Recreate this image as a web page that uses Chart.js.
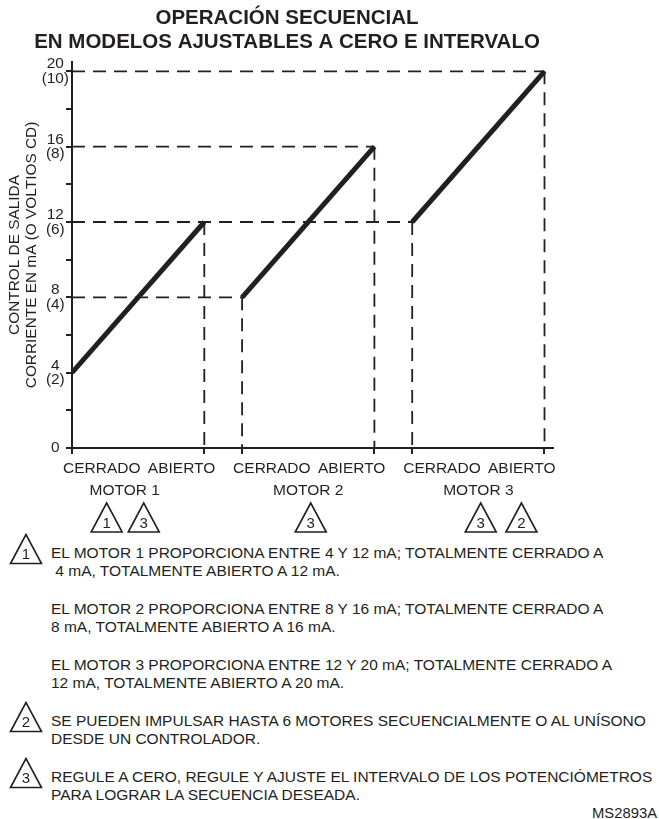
<!DOCTYPE html>
<html>
<head>
<meta charset="utf-8">
<script src="https://cdn.jsdelivr.net/npm/chart.js@4.4.1/dist/chart.umd.min.js"></script>
<style>
  html, body { margin: 0; padding: 0; background: #fff; }
  #page { position: relative; width: 659px; height: 819px; overflow: hidden;
          font-family: "Liberation Sans", Arial, sans-serif; color: #231f20; }
  #chartBox { position: absolute; left: 0; top: 0; width: 575px; height: 540px; }
  .note { position: absolute; left: 51px; font-size: 15.5px; line-height: 18.3px; white-space: pre; }
  .mark { position: absolute; left: 9px; width: 34px; height: 32px; }
  #code { position: absolute; right: 2px; font-size: 14.8px; line-height: 18px; }
</style>
</head>
<body>
<div id="page">
  <div id="chartBox"><canvas id="c"></canvas></div>
  <div id="notes"></div>
  <div id="code" style="top:804px">MS2893A</div>
</div>
<script>
// ---- data ----
const motorNames = ['MOTOR 1', 'MOTOR 2', 'MOTOR 3'];
const closedPos = [0, 9, 18];      // x position of "CERRADO" stop
const openPos = [7, 16, 25];       // x position of "ABIERTO" stop
const closedMA = [4, 8, 12];       // output at fully closed (mA)
const openMA = [12, 16, 20];       // output at fully open (mA)
const closedLabel = 'CERRADO';
const openLabel = 'ABIERTO';
const yTickValues = [0, 2, 4, 6, 8, 10, 12, 14, 16, 18, 20];
const yLabelMA = [0, 4, 8, 12, 16, 20];
const yLabelV = [null, 2, 4, 6, 8, 10];
const motorMarks = [['1', '3'], ['3'], ['3', '2']];
const chartTitle = ['OPERACIÓN SECUENCIAL', 'EN MODELOS AJUSTABLES A CERO E INTERVALO'];
const yTitle = ['CONTROL DE SALIDA', 'CORRIENTE EN mA (O VOLTIOS CD)'];
const notes = [
  { mark: '1', lines: ['EL MOTOR 1 PROPORCIONA ENTRE 4 Y 12 mA; TOTALMENTE CERRADO A', ' 4 mA, TOTALMENTE ABIERTO A 12 mA.'] },
  { mark: null, lines: ['EL MOTOR 2 PROPORCIONA ENTRE 8 Y 16 mA; TOTALMENTE CERRADO A', '8 mA, TOTALMENTE ABIERTO A 16 mA.'] },
  { mark: null, lines: ['EL MOTOR 3 PROPORCIONA ENTRE 12 Y 20 mA; TOTALMENTE CERRADO A', '12 mA, TOTALMENTE ABIERTO A 20 mA.'] },
  { mark: '2', lines: ['SE PUEDEN IMPULSAR HASTA 6 MOTORES SECUENCIALMENTE O AL UNÍSONO', 'DESDE UN CONTROLADOR.'] },
  { mark: '3', lines: ['REGULE A CERO, REGULE Y AJUSTE EL INTERVALO DE LOS POTENCIÓMETROS', 'PARA LOGRAR LA SECUENCIA DESEADA.'] }
];

// ---- layout / style ----
const ink = '#231f20';
const FONT = '"Liberation Sans", Arial, sans-serif';
const motorLabelShift = [-13.5, 0, 0];
const markShift = [[-31.5, 5.6], [2.5], [2.4, 43.1]];
const noteFirstLine = [553, 609, 665, 721, 777];

Chart.defaults.font.family = FONT;
Chart.defaults.color = ink;

// motor lines
const motorSets = motorNames.map((m, i) => ({
  label: m,
  data: [{ x: closedPos[i], y: closedMA[i] }, { x: openPos[i], y: openMA[i] }],
  showLine: true, borderColor: ink, borderWidth: 5, pointRadius: 0,
  borderCapStyle: 'butt', order: 0
}));

// dashed guide lines derived from the stop points
const ends = [];
motorNames.forEach((m, i) => {
  ends.push({ x: closedPos[i], y: closedMA[i] });
  ends.push({ x: openPos[i], y: openMA[i] });
});
const guideSets = [];
const dashStyle = { showLine: true, borderColor: ink, borderWidth: 1.8, borderDash: [13, 8], pointRadius: 0, order: 1 };
const levels = [...new Set(ends.filter(e => e.x > 0).map(e => e.y))];
levels.forEach(lv => {
  const maxX = Math.max(...ends.filter(e => e.y === lv).map(e => e.x));
  guideSets.push(Object.assign({ label: 'h' + lv, data: [{ x: 0, y: lv }, { x: maxX, y: lv }] }, dashStyle));
});
ends.filter(e => e.x > 0).forEach(e => {
  guideSets.push(Object.assign({ label: 'v' + e.x, data: [{ x: e.x, y: e.y }, { x: e.x, y: 0 }] }, dashStyle));
});

const stopTicks = [];
motorNames.forEach((m, i) => { stopTicks.push(closedPos[i], openPos[i]); });

function drawMark(ctx, cx, top, txt) {
  ctx.save();
  ctx.beginPath();
  ctx.moveTo(cx, top);
  ctx.lineTo(cx - 15.5, top + 29);
  ctx.lineTo(cx + 15.5, top + 29);
  ctx.closePath();
  ctx.lineWidth = 1.6;
  ctx.strokeStyle = ink;
  ctx.lineJoin = 'miter';
  ctx.stroke();
  ctx.fillStyle = ink;
  ctx.font = '15px ' + FONT;
  ctx.textAlign = 'center';
  ctx.textBaseline = 'alphabetic';
  ctx.fillText(txt, cx, top + 24.5);
  ctx.restore();
}

const stopLabels = {
  id: 'stopLabels',
  afterDraw(chart) {
    const { ctx, chartArea } = chart;
    const x = chart.scales.x;
    const b = chartArea.bottom;
    ctx.save();
    ctx.fillStyle = ink;
    ctx.font = '15.5px ' + FONT;
    ctx.textBaseline = 'middle';
    motorNames.forEach((m, i) => {
      const xc = x.getPixelForValue(closedPos[i]);
      const xo = x.getPixelForValue(openPos[i]);
      ctx.textAlign = 'left';
      ctx.fillText(closedLabel, xc - 9, b + 21);
      ctx.textAlign = 'right';
      ctx.fillText(openLabel, xo + 11, b + 21);
      ctx.textAlign = 'center';
      const mid = (xc + xo) / 2;
      ctx.fillText(m, mid + motorLabelShift[i], b + 43);
      motorMarks[i].forEach((n, j) => drawMark(ctx, mid + markShift[i][j], b + 55, n));
    });
    ctx.restore();
  }
};

new Chart(document.getElementById('c'), {
  type: 'scatter',
  data: { datasets: motorSets.concat(guideSets) },
  options: {
    responsive: true,
    maintainAspectRatio: false,
    animation: false,
    events: [],
    layout: { padding: { left: 21, right: 22, top: 0, bottom: 0 } },
    plugins: {
      legend: { display: false },
      tooltip: { enabled: false },
      title: {
        display: true, text: chartTitle, color: ink,
        font: { size: 20.5, weight: 'bold', lineHeight: 1.15 },
        padding: { top: 7, bottom: 7.8 }
      }
    },
    scales: {
      x: {
        type: 'linear', min: 0, max: 25.45,
        afterBuildTicks: s => { s.ticks = stopTicks.map(v => ({ value: v })); },
        afterFit: s => { s.height = 92; },
        ticks: { callback: () => '', autoSkip: false },
        grid: { drawOnChartArea: false, drawTicks: true, tickLength: 6, color: ink, lineWidth: 2 },
        border: { color: ink, width: 2 }
      },
      y: {
        type: 'linear', min: 0, max: 20.5,
        afterBuildTicks: s => { s.ticks = yTickValues.map(v => ({ value: v })); },
        afterFit: s => { s.width = 51; },
        ticks: {
          autoSkip: false, crossAlign: 'center', padding: -3, color: ink,
          font: { size: 15.4, lineHeight: 0.95 },
          callback: v => {
            const k = yLabelMA.indexOf(v);
            if (k < 0) return '';
            return yLabelV[k] === null ? String(yLabelMA[k]) : [String(yLabelMA[k]), '(' + yLabelV[k] + ')'];
          }
        },
        grid: { drawOnChartArea: false, drawTicks: true, tickLength: 6, color: ink, lineWidth: 2 },
        border: { color: ink, width: 2 },
        title: {
          display: true, text: yTitle, color: ink,
          font: { size: 15.4, lineHeight: 1.05 },
          padding: { top: -14, bottom: 0 }
        }
      }
    }
  },
  plugins: [stopLabels]
});

// ---- notes (HTML text) ----
const notesBox = document.getElementById('notes');
notes.forEach((n, i) => {
  const y = noteFirstLine[i];
  const d = document.createElement('div');
  d.className = 'note';
  d.style.top = (y - 9.15) + 'px';
  d.textContent = n.lines.join('\n');
  notesBox.appendChild(d);
  if (n.mark) {
    const s = document.createElementNS('http://www.w3.org/2000/svg', 'svg');
    s.setAttribute('class', 'mark');
    s.setAttribute('viewBox', '0 0 34 32');
    s.style.top = (y - 20) + 'px';
    s.innerHTML = '<polygon points="17,1.5 1.5,30.5 32.5,30.5" fill="none" stroke="' + ink + '" stroke-width="1.6"/>' +
      '<text x="17" y="26" text-anchor="middle" font-size="15" font-family=\'' + FONT + '\' fill="' + ink + '">' + n.mark + '</text>';
    notesBox.appendChild(s);
  }
});
</script>
</body>
</html>
